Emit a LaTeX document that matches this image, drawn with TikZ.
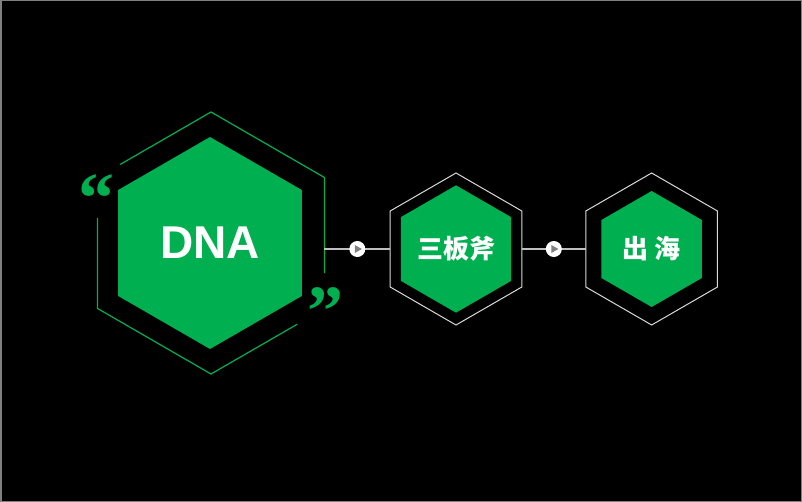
\documentclass[tikz,border=0pt]{standalone}
\usepackage{fontspec}
\setmainfont{Liberation Sans}
\newfontfamily\cjk{Noto Sans CJK SC}
\newfontfamily\quotefont{Liberation Serif}
\usetikzlibrary{calc}
\usetikzlibrary{positioning}
\usetikzlibrary{shapes.geometric}
\definecolor{hexgreen}{HTML}{00B050}
\definecolor{linegray}{HTML}{BFBFBF}
\definecolor{rimgray}{HTML}{D9D9D9}
\tikzstyle{hexnode} = [regular polygon, regular polygon sides=6, regular polygon rotate=30, inner sep=0pt, outer sep=0pt]
\tikzstyle{corehex} = [hexnode, fill=hexgreen, text=white]
\tikzstyle{rimhex} = [hexnode, draw=rimgray, line width=1pt]
\tikzstyle{greenrim} = [draw=hexgreen, line width=1.2pt]
\tikzstyle{playnode} = [circle, fill=white, minimum size=16pt, inner sep=0pt]
\tikzstyle{link} = [draw=linegray, line width=1.3pt]
\tikzstyle{quotemark} = [text=hexgreen, font=\quotefont\bfseries\fontsize{72}{72}\selectfont, inner sep=0pt]

\begin{document}
\begin{tikzpicture}[x=1pt, y=1pt]
  \fill[gray] (0,0) rectangle (802,-502);
  \fill[black] (1.5,-1) rectangle (800.5,-501);

  \node[hexnode, minimum size=262pt] (dna_out) at (211,-243) {};
  \node[corehex, minimum size=212pt, font=\bfseries\fontsize{46}{46}\selectfont] (dna) at (210,-243) {DNA};
  \draw[greenrim] ($(dna_out.90)!0.8!(dna_out.150)$) -- (dna_out.90) -- (dna_out.30) -- ($(dna_out.30)!0.73!(dna_out.330)$);
  \draw[greenrim] ($(dna_out.330)!0.24!(dna_out.270)$) -- (dna_out.270) -- (dna_out.210) -- ($(dna_out.150)!0.31!(dna_out.210)$);
  \node[quotemark] (open_q) at (96,-199) {“};
  \node[quotemark] (close_q) at (325,-312) {”};

  \node[rimhex, minimum size=152pt] (sbf_out) at (456,-249) {};
  \node[corehex, minimum size=116pt, font=\cjk\bfseries\fontsize{26}{26}\selectfont] (sbf) at (sbf_out) {三板斧};
  \node[rimhex, minimum size=152pt, right=64pt of sbf_out] (hai_out) {};
  \node[corehex, minimum size=116pt, font=\cjk\bfseries\fontsize{26}{26}\selectfont] (hai) at (hai_out) {出 海};

  \coordinate (a_start) at (dna_out.east |- sbf_out);
  \draw[link] (a_start) -- (sbf_out.west);
  \node[playnode] (play_a) at ($(a_start)!0.5!(sbf_out.west)$) {};
  \fill[gray] ($(play_a)+(-2.5,4)$) -- ($(play_a)+(4.5,0)$) -- ($(play_a)+(-2.5,-4)$) -- cycle;

  \draw[link] (sbf_out.east) -- (hai_out.west);
  \node[playnode] (play_b) at ($(sbf_out.east)!0.5!(hai_out.west)$) {};
  \fill[gray] ($(play_b)+(-2.5,4)$) -- ($(play_b)+(4.5,0)$) -- ($(play_b)+(-2.5,-4)$) -- cycle;
\end{tikzpicture}
\end{document}
